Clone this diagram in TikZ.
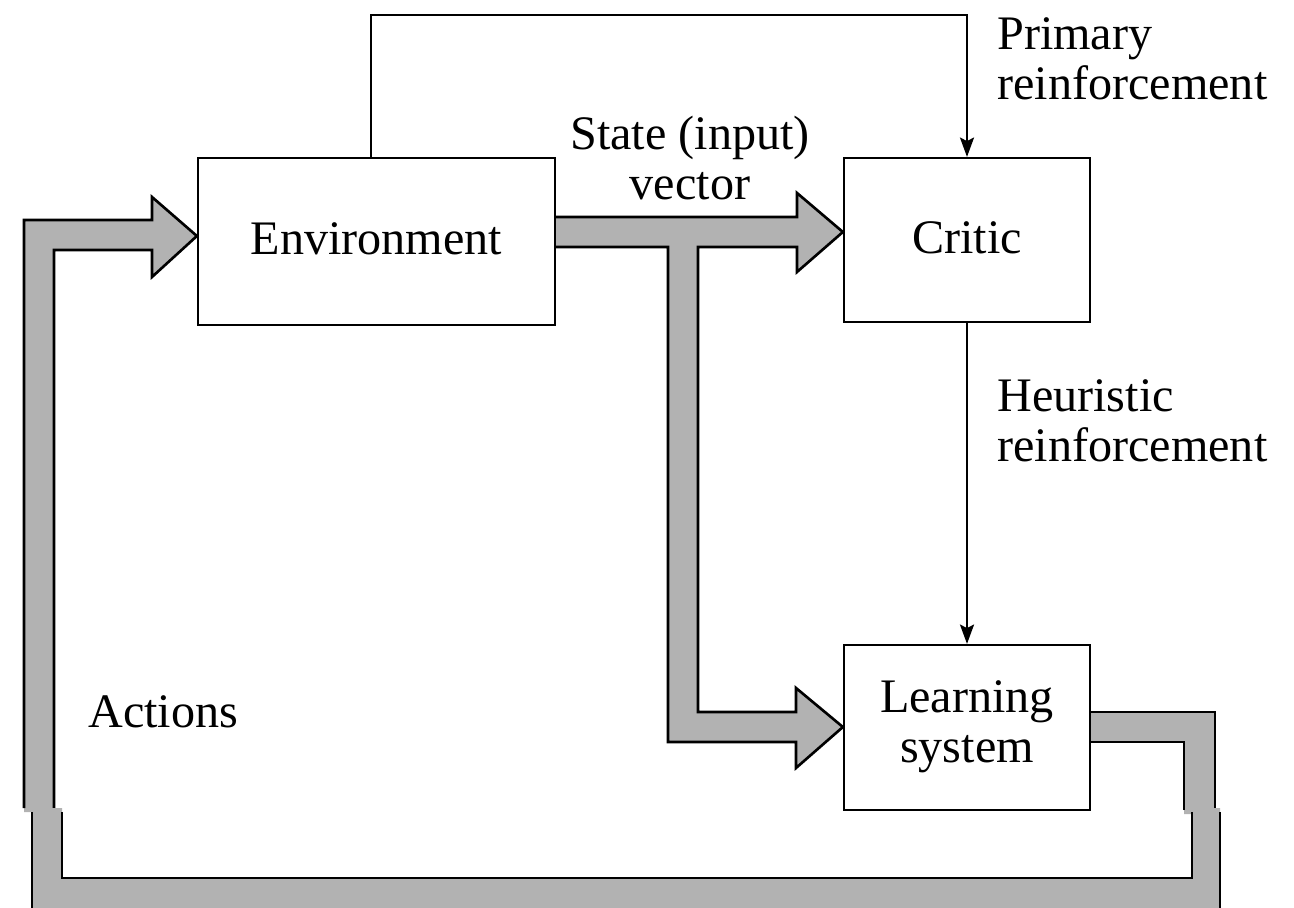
\documentclass[tikz,border=0pt]{standalone}
\usepackage{fontspec}
\setmainfont{Liberation Serif}
\usetikzlibrary{arrows.meta,backgrounds,calc}
\begin{document}
\begin{tikzpicture}[x=0.02cm,y=-0.02cm,
  every node/.style={font=\fontsize{27.4}{28.35}\selectfont},
  blockbox/.style={draw, line width=1.3pt, inner sep=0pt},
  oneline/.style={text height=19pt, text depth=4pt},
  bandfill/.style={fill=black!30, draw=none},
  bandedge/.style={draw=black, line width=1.5pt, line join=miter},
  sig/.style={draw, line width=1.1pt, -{Stealth[length=11pt,width=8pt,inset=2pt]}},
  lbl/.style={inner sep=0pt, anchor=base west}
]
\useasboundingbox (0,0) rectangle (1294,908);

% blocks
\node[blockbox, oneline, minimum width=7.14cm, minimum height=3.34cm] (env) at (376.5,241.5) {Environment};
\node[blockbox, oneline, minimum width=4.92cm, minimum height=3.28cm] (critic) at (967,240) {Critic};
\node[blockbox, minimum width=4.92cm, minimum height=3.3cm] (learn) at (967,727.5)
  {\begin{tabular}[t]{@{}c@{}}Learning\\system\end{tabular}};

% labels
\node[lbl] (plab) at (997,50) {\begin{tabular}[t]{@{}l@{}}Primary\\reinforcement\end{tabular}};
\node[lbl] (hlab) at (997,412) {\begin{tabular}[t]{@{}l@{}}Heuristic\\reinforcement\end{tabular}};
\node[lbl] (alab) at (88,727) {Actions};
\node[inner sep=0pt, anchor=base] (slab) at (690,150) {\begin{tabular}[t]{@{}c@{}}State (input)\\vector\end{tabular}};

% thin signal lines
\draw[sig] ($(env.north west)+(174,0)$) |- (critic.north |- 0,15) -- (critic.north);
\draw[sig] (critic.south) -- (learn.north);

% wide gray bands
\begin{scope}[on background layer]
  \clip (0,0) rectangle (1294,908);
  % actions into environment
  \path[bandfill] (24,812) -- (24,220) -- (152,220) -- (152,197) -- (env.west |- 0,236)
     -- (152,277) -- (152,250) -- (54,250) -- (54,812) -- cycle;
  \draw[bandedge] (24,808) -- (24,220) -- (152,220) -- (152,197) -- (env.west |- 0,236)
     -- (152,277) -- (152,250) -- (54,250) -- (54,808);
  % state vector to critic and learning system
  \path[bandfill] (env.east |- 0,217) -- (797,217) -- (797,193) -- (critic.west |- 0,232)
     -- (797,272) -- (797,247) -- (698,247) -- (698,712) -- (796,712) -- (796,688)
     -- (learn.west |- 0,727) -- (796,768) -- (796,742) -- (668,742) -- (668,247)
     -- (env.east |- 0,247) -- cycle;
  \draw[bandedge] (env.east |- 0,217) -- (797,217) -- (797,193) -- (critic.west |- 0,232)
     -- (797,272) -- (797,247) -- (698,247) -- (698,712) -- (796,712) -- (796,688)
     -- (learn.west |- 0,727) -- (796,768) -- (796,742) -- (668,742) -- (668,247)
     -- (env.east |- 0,247);
  % output of learning system
  \path[bandfill] (learn.east |- 0,712) -- (1215,712) -- (1215,814) -- (1184,814)
     -- (1184,742) -- (learn.east |- 0,742) -- cycle;
  \draw[bandedge] (learn.east |- 0,712) -- (1215,712) -- (1215,810);
  \draw[bandedge] (1184,810) -- (1184,742) -- (learn.east |- 0,742);
  % bottom return path
  \path[bandfill] (32,808) -- (32,925) -- (1220,925) -- (1220,808) -- (1192,808)
     -- (1192,878) -- (62,878) -- (62,808) -- cycle;
  \draw[bandedge] (32,812) -- (32,925);
  \draw[bandedge] (62,812) -- (62,878) -- (1192,878) -- (1192,812);
  \draw[bandedge] (1220,812) -- (1220,925);
\end{scope}
\end{tikzpicture}
\end{document}
